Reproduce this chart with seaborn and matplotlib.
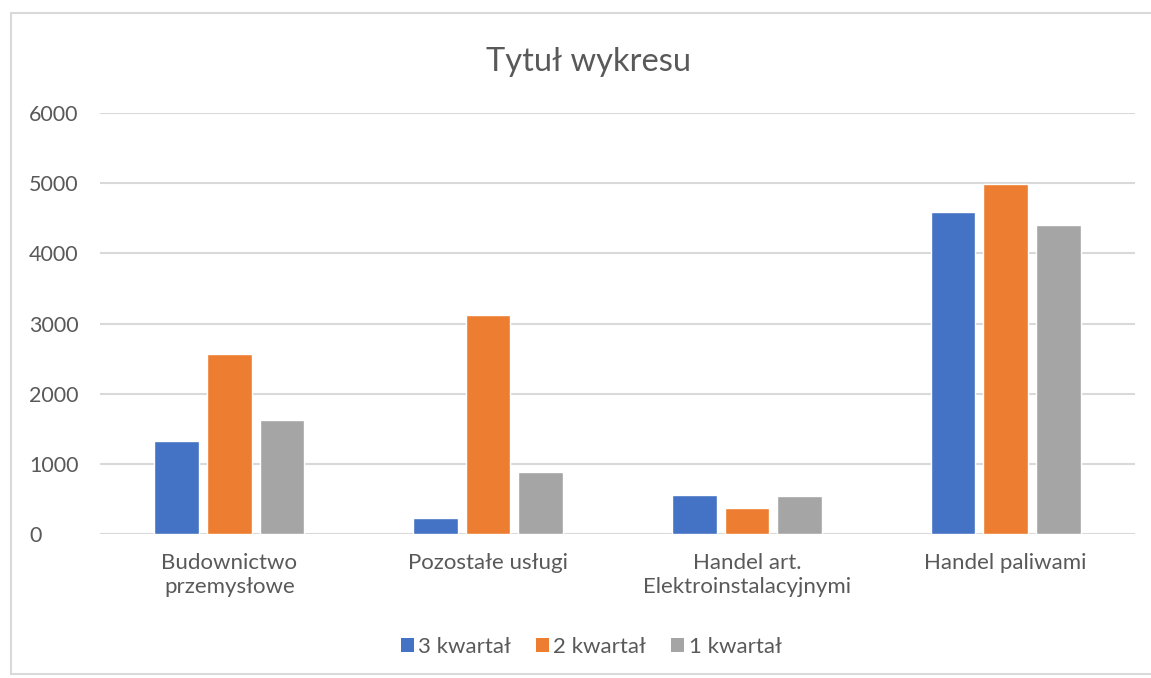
import matplotlib
matplotlib.use("Agg")
import matplotlib.pyplot as plt
import seaborn as sns
import pandas as pd
from matplotlib.patches import Patch
from matplotlib.lines import Line2D

categories = ["Budownictwo\nprzemysłowe", "Pozostałe usługi",
              "Handel art.\nElektroinstalacyjnymi", "Handel paliwami"]
series_names = ["3 kwartał", "2 kwartał", "1 kwartał"]
q3 = [1320, 230, 560, 4590]
q2 = [2565, 3125, 370, 4990]
q1 = [1630, 880, 540, 4410]
colors = ["#4472C4", "#ED7D31", "#A5A5A5"]
yticks = [0, 1000, 2000, 3000, 4000, 5000, 6000]

rows = []
for name, vals in zip(series_names, [q3, q2, q1]):
    for c, v in zip(categories, vals):
        rows.append({"cat": c, "series": name, "value": v})
df = pd.DataFrame(rows)

sns.set_theme(style="white")
plt.rcParams["font.family"] = ["Lato", "DejaVu Sans"]

W, H = 1151, 678
fig = plt.figure(figsize=(W / 100, H / 100), dpi=100)
fig.patch.set_facecolor("white")
ax = fig.add_axes([100 / W, 1 - 534 / H, (1135 - 100) / W, (534 - 113) / H])

sns.barplot(data=df, x="cat", y="value", hue="series", order=categories,
            hue_order=series_names, palette=colors, width=0.61, gap=0.15,
            saturation=1, ax=ax, legend=False, zorder=3)

ax.set_ylim(0, 6000)
ax.set_xlim(-0.5, 3.5)
ax.set_yticks(yticks)
ax.set_yticklabels([str(t) for t in yticks])
ax.grid(axis="y", color="#D9D9D9", linewidth=1.5, zorder=0)
ax.set_axisbelow(True)
for s in ax.spines.values():
    s.set_visible(False)
ax.set_xlabel("")
ax.set_ylabel("")
ax.tick_params(axis="both", length=0, colors="#595959")
ax.tick_params(axis="y", labelsize=15.5, pad=51)
ax.tick_params(axis="x", labelsize=16, pad=14)
for lbl in ax.get_yticklabels():
    lbl.set_horizontalalignment("left")

fig.text(589 / W, 1 - 62 / H, "Tytuł wykresu", ha="center", va="center",
         fontsize=23.5, color="#595959")

handles = [Patch(facecolor=c, edgecolor="none") for c in colors]
fig.legend(handles, series_names, loc="center", bbox_to_anchor=(591 / W, 1 - 647 / H),
           ncol=3, frameon=False, fontsize=16, labelcolor="#595959",
           handlelength=0.6, handleheight=0.6, handletextpad=0.2, columnspacing=1.1)

border = dict(color="#D9D9D9", linewidth=1.5, transform=fig.transFigure)
fig.lines.append(Line2D([11 / W, 11 / W], [1 - 674 / H, 1 - 13 / H], **border))
fig.lines.append(Line2D([11 / W, 1.0], [1 - 13 / H, 1 - 13 / H], **border))
fig.lines.append(Line2D([11 / W, 1.0], [1 - 674 / H, 1 - 674 / H], **border))

fig.savefig("out.png", dpi=100, facecolor="white")
